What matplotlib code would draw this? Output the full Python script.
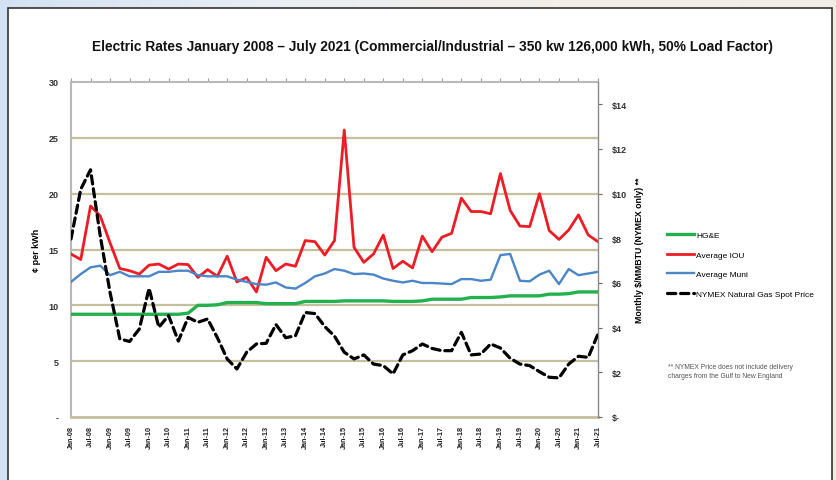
import numpy as np
import matplotlib
matplotlib.use("Agg")
import matplotlib.pyplot as plt
from matplotlib.patches import Rectangle
from matplotlib.colors import LinearSegmentedColormap

# ---------------- data ----------------
years = list(range(2008, 2022))
quarters = []
for y in years:
    for m in ["Jan", "Apr", "Jul", "Oct"]:
        quarters.append(f"{m}-{str(y)[2:]}")
quarters = quarters[:55]  # Jan-08 .. Jul-21

hge = [9.2, 9.2, 9.2, 9.2, 9.2, 9.2, 9.2, 9.2, 9.2, 9.2, 9.2, 9.2, 9.3,
       10.0, 10.0, 10.05, 10.25, 10.25, 10.25, 10.25, 10.15, 10.15, 10.15, 10.15,
       10.35, 10.35, 10.35, 10.35, 10.4, 10.4, 10.4, 10.4, 10.4, 10.35, 10.35, 10.35,
       10.4, 10.55, 10.55, 10.55, 10.55, 10.7, 10.7, 10.7, 10.75, 10.85, 10.85, 10.85,
       10.85, 11.0, 11.0, 11.05, 11.2, 11.2, 11.2]
avg_iou = [14.6, 14.1, 18.9, 18.0, 15.6, 13.3, 13.1, 12.8, 13.6, 13.7, 13.25, 13.7,
           13.65, 12.5, 13.2, 12.6, 14.4, 12.1, 12.5, 11.2, 14.3, 13.1, 13.7, 13.5,
           15.8, 15.7, 14.5, 15.8, 25.7, 15.2, 13.85, 14.6, 16.3, 13.3, 13.95, 13.35,
           16.2, 14.8, 16.1, 16.45, 19.6, 18.4, 18.4, 18.2, 21.8, 18.5, 17.1, 17.05,
           20.0, 16.7, 15.9, 16.75, 18.1, 16.3, 15.7]
avg_muni = [12.1, 12.8, 13.4, 13.55, 12.7, 13.0, 12.6, 12.6, 12.6, 13.0, 13.0, 13.1,
            13.1, 12.7, 12.6, 12.6, 12.6, 12.3, 12.1, 11.9, 11.85, 12.05, 11.6, 11.5,
            12.0, 12.6, 12.85, 13.25, 13.1, 12.8, 12.85, 12.75, 12.4, 12.2, 12.05, 12.2,
            12.0, 12.0, 11.95, 11.9, 12.35, 12.35, 12.2, 12.3, 14.5, 14.6, 12.2, 12.15,
            12.75, 13.1, 11.9, 13.25, 12.7, 12.85, 13.0]
nymex = [7.97, 10.2, 11.07, 8.1, 5.58, 3.5, 3.38, 3.94, 5.76, 4.02, 4.54, 3.4,
         4.46, 4.24, 4.39, 3.55, 2.6, 2.15, 2.9, 3.27, 3.3, 4.14, 3.55, 3.64,
         4.68, 4.63, 4.05, 3.62, 2.9, 2.6, 2.78, 2.37, 2.30, 1.93, 2.78, 2.97,
         3.27, 3.07, 2.97, 2.97, 3.79, 2.78, 2.82, 3.27, 3.09, 2.63, 2.37, 2.30,
         2.03, 1.78, 1.75, 2.37, 2.72, 2.67, 3.72]

left_ticks = [0, 5, 10, 15, 20, 25, 30]
left_ticklabels = ["-", "5", "10", "15", "20", "25", "30"]
right_ticks = [0, 2, 4, 6, 8, 10, 12, 14]
right_ticklabels = ["$-", "$2", "$4", "$6", "$8", "$10", "$12", "$14"]

title = "Electric Rates January 2008 \u2013 July 2021 (Commercial/Industrial \u2013 350 kw 126,000 kWh, 50% Load Factor)"
footnote = "** NYMEX Price does not include delivery\ncharges from the Gulf to New England"

plt.rcParams['font.family'] = ['Liberation Sans', 'DejaVu Sans']

# ---------------- figure ----------------
W, H = 836, 481
fig = plt.figure(figsize=(W / 100, H / 100), dpi=100)

bg = fig.add_axes([0, 0, 1, 1], zorder=-10)
grad = np.linspace(0, 1, 256)[None, :]
cmap = LinearSegmentedColormap.from_list("bg", ["#d3e2f2", "#e9eef4", "#f4efe8", "#f1ece6"])
bg.imshow(grad, aspect="auto", cmap=cmap, extent=[0, 1, 0, 1])
bg.set_xlim(0, 1); bg.set_ylim(0, 1)
bg.axis("off")
bx0, by0 = 8 / W, 1 - 9 / H
bg.add_patch(Rectangle((bx0, -0.01), (832 - 8) / W, by0 + 0.01, facecolor="white",
                       edgecolor="#333333", linewidth=1.2, transform=bg.transAxes))

x = np.arange(len(quarters))

ax = fig.add_axes([71 / W, 1 - 418 / H, (598 - 71) / W, (418 - 83) / H])
ax.set_facecolor("none")
ax.set_xlim(0, len(quarters) - 1)
ax.set_ylim(0, 30)

grid_c = "#c4bf9c"
for v in left_ticks[1:-1]:
    ax.axhline(v, color=grid_c, lw=1.6, zorder=0)

l_hge, = ax.plot(x, hge, color="#22b14c", lw=2.4, label="HG&E", zorder=3)
l_iou, = ax.plot(x, avg_iou, color="#ee1c24", lw=2.0, label="Average IOU", zorder=3)
l_muni, = ax.plot(x, avg_muni, color="#4a86c8", lw=1.7, label="Average Muni", zorder=3)

ax.set_yticks(left_ticks)
ax.set_yticklabels(left_ticklabels, fontsize=6.5, fontweight="bold", color="#333333")
ax.tick_params(axis="y", length=0, pad=9)

ax.set_xticks(x[::2])
ax.set_xticklabels(quarters[::2], rotation=90, fontsize=5.2, fontweight="bold", color="#222222")
ax.tick_params(axis="x", bottom=False, top=True, direction="out", length=3,
               color="#999999", pad=3)

for s in ["left", "top"]:
    ax.spines[s].set_color("#b8b8b8")
    ax.spines[s].set_linewidth(1.5)
ax.spines["bottom"].set_color("#c4bf9c")
ax.spines["bottom"].set_linewidth(2.0)
ax.spines["right"].set_visible(False)

ax.set_ylabel("\u00a2 per kWh", fontsize=6.5, fontweight="bold", labelpad=5)

ax2 = ax.twinx()
ax2.set_ylim(0, 15)
l_nym, = ax2.plot(x, nymex, color="black", lw=2.3, linestyle=(0, (2.6, 1.5)),
                  dash_capstyle="round", label="NYMEX Natural Gas Spot Price", zorder=4)
ax2.set_yticks(right_ticks)
ax2.set_yticklabels(right_ticklabels, fontsize=6.5, fontweight="bold", color="#333333")
ax2.tick_params(axis="y", direction="out", length=3, color="#666666", pad=7)
for s in ["left", "top", "bottom"]:
    ax2.spines[s].set_visible(False)
ax2.spines["right"].set_color("#888888")
ax2.spines["right"].set_linewidth(1.0)
ax2.set_ylabel("Monthly $/MMBTU (NYMEX only) **", fontsize=6.3, fontweight="bold", labelpad=6)

fig.text(432 / W, 1 - 47 / H, title, ha="center", va="center", fontsize=9.9,
         fontweight="bold", color="#111111")

leg = fig.legend(handles=[l_hge, l_iou, l_muni, l_nym], loc="upper left",
                 bbox_to_anchor=(664 / W, 1 - 229 / H), frameon=False,
                 fontsize=6.0, handlelength=3.2, handletextpad=0.3, labelspacing=1.4,
                 borderaxespad=0)

fig.text(668 / W, 1 - 372 / H, footnote, ha="left", va="center", fontsize=4.9,
         color="#555555", linespacing=1.4)

fig.savefig("out.png", dpi=100, facecolor=fig.get_facecolor())
